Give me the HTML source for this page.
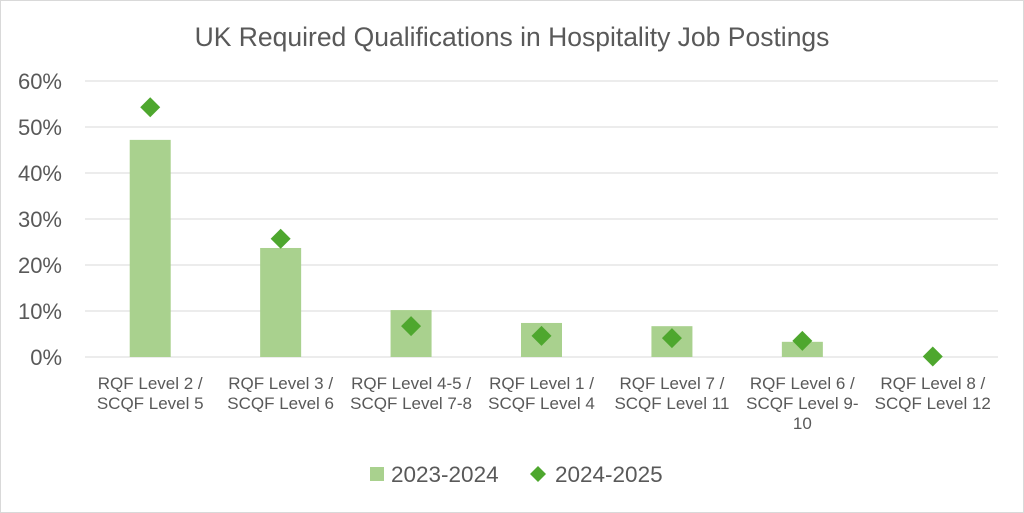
<!DOCTYPE html>
<html><head><meta charset="utf-8"><style>
html,body{margin:0;padding:0;background:#fff;}
svg{display:block;font-family:"Liberation Sans",sans-serif;}
</style></head><body>
<svg id="chart" width="1024" height="513" viewBox="0 0 1024 513">
<rect x="0.5" y="0.5" width="1023" height="512" fill="#fff" stroke="#d9d9d9"/>
<text x="512" y="46" text-anchor="middle" font-size="26.5" fill="#595959">UK Required Qualifications in Hospitality Job Postings</text>
<g id="grid"></g><g id="bars"></g><g id="pts"></g><g id="xl"></g>
<g>
<rect x="370" y="467" width="14" height="14" fill="#a9d18e"/>
<text x="391" y="482" font-size="22.5" fill="#595959">2023-2024</text>
<path d="M538 466 L546 474 L538 482 L530 474 Z" fill="#4ea72e"/>
<text x="555" y="482" font-size="22.5" fill="#595959">2024-2025</text>
</g>
</svg>
<script>
const categories=[["RQF Level 2 /","SCQF Level 5"],["RQF Level 3 /","SCQF Level 6"],["RQF Level 4-5 /","SCQF Level 7-8"],["RQF Level 1 /","SCQF Level 4"],["RQF Level 7 /","SCQF Level 11"],["RQF Level 6 /","SCQF Level 9-","10"],["RQF Level 8 /","SCQF Level 12"]];
const s2023=[47.2,23.7,10.2,7.4,6.7,3.3,0];
const s2024=[54.3,25.7,6.7,4.6,4.1,3.5,0.1];
const yTicks=[0,10,20,30,40,50,60];
const ns="http://www.w3.org/2000/svg";
const L=85,R=998,Y0=357,Y60=81;
const y=v=>Y0-(v/60)*(Y0-Y60);
const bw=(R-L)/categories.length;
const xc=i=>L+bw*(i+0.5);
function mk(tag,attrs,parent){const e=document.createElementNS(ns,tag);for(const k in attrs)e.setAttribute(k,attrs[k]);document.getElementById(parent).appendChild(e);return e;}
yTicks.forEach(t=>{
 const l=mk('line',{x1:L,x2:R,y1:y(t),y2:y(t),stroke:'#d9d9d9','stroke-width':1},'grid');
 
 
 const tx=mk('text',{x:62,y:y(t)+8,'text-anchor':'end','font-size':22,fill:'#595959'},'grid');
 tx.textContent=t+'%';
 
 
});
s2023.forEach((v,i)=>{
 const r=mk('rect',{x:xc(i)-20.5,y:y(v),width:41,height:Y0-y(v),fill:'#a9d18e'},'bars');
 
 
});
s2024.forEach((v,i)=>{
 const cx=xc(i),cy=y(v),d=10;
 const p=mk('path',{d:`M${cx} ${cy-d} L${cx+d} ${cy} L${cx} ${cy+d} L${cx-d} ${cy} Z`,fill:'#4ea72e'},'pts');
 
 
});
categories.forEach((c,i)=>{
 const t=mk('text',{x:xc(i),'text-anchor':'middle','font-size':17,fill:'#595959'},'xl');
 
 
 c.forEach((ln,j)=>{const s=document.createElementNS(ns,'tspan');s.setAttribute('x',xc(i));s.setAttribute('y',389+j*20);s.textContent=ln;t.appendChild(s);});
});
</script>
</body></html>
